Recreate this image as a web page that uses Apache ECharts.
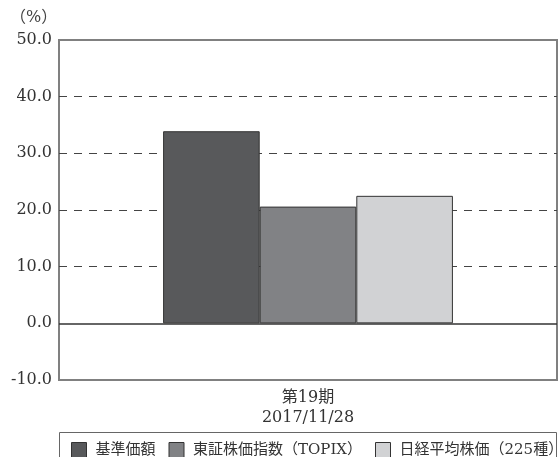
<!DOCTYPE html>
<html><head><meta charset="utf-8">
<script src="https://cdn.jsdelivr.net/npm/echarts@6/dist/echarts.min.js"></script>
<style>html,body{margin:0;padding:0;background:#fff}#c{width:560px;height:457px}</style>
</head><body><div id="c"></div>
<script>
const categories = ['第19期\n2017/11/28'];
const seriesNames = ['基準価額', '東証株価指数（TOPIX）', '日経平均株価（225種）'];
const fundValues = [33.9];
const topixValues = [20.6];
const nikkeiValues = [22.5];
const yTicks = { min: -10, max: 50, interval: 10 };

const font = '"DejaVu Serif", "Noto Sans CJK JP", sans-serif';
const colors = ['#58595b', '#818285', '#d1d2d4'];
const grid = { left: 59, right: 3, top: 40, bottom: 77 };
const chart = echarts.init(document.getElementById('c'));
const T = 'rgba(0,0,0,0)';
const mk = (name, data, i) => ({
  name, type: 'bar', data, barGap: '0%', barCategoryGap: '41.8%',
  itemStyle: { color: colors[i], borderColor: '#333', borderWidth: 1 },
  z: 3
});
const series = [mk(seriesNames[0], fundValues, 0), mk(seriesNames[1], topixValues, 1), mk(seriesNames[2], nikkeiValues, 2)];
series[0].markLine = { silent: true, symbol: 'none', label: { show: false },
  lineStyle: { color: '#333', type: 'solid', width: 1.5 }, data: [{ yAxis: 0 }], z: 2 };
chart.setOption({
  animation: false,
  textStyle: { fontFamily: font },
  grid: Object.assign({ show: true, borderColor: '#808080', borderWidth: 2, backgroundColor: '#fff' }, grid),
  graphic: [
    { type: 'text', left: 10, top: 10, style: { text: '（%）', fontFamily: font, fontSize: 16, fill: '#444' } },
    { type: 'rect', shape: { x: 59.5, y: 432.5, width: 497, height: 30 }, style: { fill: 'none', stroke: '#666', lineWidth: 1 } }
  ],
  legend: {
    left: 66, top: 437, width: 494, itemWidth: 15, itemHeight: 15, itemGap: 13,
    icon: 'rect',
    textStyle: { fontFamily: font, fontSize: 15, color: '#333', padding: [0, 0, 0, 4] },
    data: seriesNames.map((n, i) => ({ name: n, itemStyle: { color: colors[i], borderColor: '#333', borderWidth: 1 } }))
  },
  xAxis: {
    type: 'category', data: categories,
    axisLine: { show: false }, axisTick: { show: false },
    axisLabel: { fontFamily: font, fontSize: 16, color: '#333', margin: 8, lineHeight: 20 }
  },
  yAxis: {
    type: 'value', min: yTicks.min, max: yTicks.max, interval: yTicks.interval,
    axisLine: { show: false }, axisTick: { show: false },
    axisLabel: { fontFamily: font, fontSize: 16, color: '#333', margin: 7, formatter: v => v.toFixed(1) },
    splitLine: { show: true, lineStyle: { type: [8, 7], width: 1, color: [T, T, '#444', '#444', '#444', '#444', T] } }
  },
  series
});
</script></body></html>
